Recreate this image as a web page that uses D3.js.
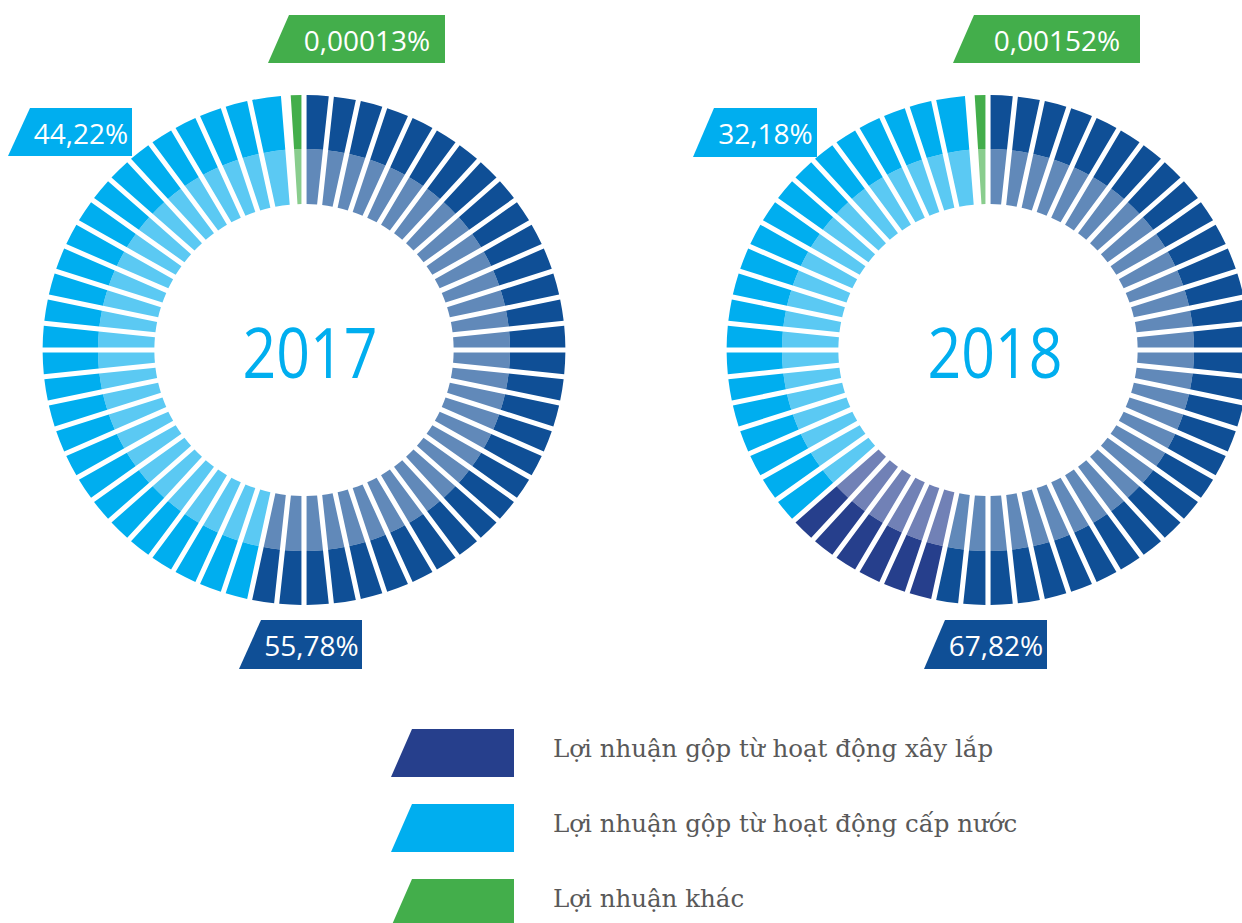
<!DOCTYPE html>
<html>
<head>
<meta charset="utf-8">
<script src="https://cdn.jsdelivr.net/npm/d3@7"></script>
<style>
  body { margin: 0; background: #fff; }
  svg { display: block; }
</style>
</head>
<body>
<svg id="chart"></svg>
<script>
// ---- data ----
const categories = [
  "Lợi nhuận gộp từ hoạt động xây lắp",
  "Lợi nhuận gộp từ hoạt động cấp nước",
  "Lợi nhuận khác"
];
const years = ["2017", "2018"];
const share2017 = ["55,78%", "44,22%", "0,00013%"];
const share2018 = ["67,82%", "32,18%", "0,00152%"];
// bars on each ring, as runs of one shade (60 bars around)
const runShade2017 = ["blue", "cyan", "green"];
const runBars2017 = [32, 27, 1];
const runShade2018 = ["blue", "navy", "cyan", "green"];
const runBars2018 = [32, 6, 21, 1];

const legendColors = ["#263f8c", "#00aeef", "#43ae4b"];
const labelColors = ["#0f4f96", "#00aeef", "#43ae4b"];
// outer / inner colour of each bar shade
const shades = {
  blue:  ["#0f4f96", "#6189b9"],
  navy:  ["#263f8c", "#7181b6"],
  cyan:  ["#00aeef", "#5bc9f3"],
  green: ["#43ae4b", "#89cd8d"]
};

const width = 1242, height = 923;
const rOut = 255, rMid = 201, rIn = 146;
const totalSlots = 60;

const svg = d3.select("#chart")
  .attr("width", width)
  .attr("height", height)
  .attr("viewBox", [0, 0, width, height]);

const slot = d3.scaleLinear().domain([0, totalSlots]).range([0, 2 * Math.PI]);

const arcDark = d3.arc().innerRadius(rMid).outerRadius(rOut)
  .padRadius(rOut).padAngle(5 / rOut);
const arcLight = d3.arc().innerRadius(rIn).outerRadius(rMid)
  .padRadius(rOut).padAngle(5 / rOut);

function buildBars(shadeRuns, barRuns) {
  const bars = [];
  let i = 0;
  shadeRuns.forEach((s, k) => {
    for (let j = 0; j < barRuns[k]; j++) {
      bars.push({ shade: s, start: i, end: i + 1 });
      i++;
    }
  });
  // the "other" bar is only a thin sliver, the bar before it a bit wider
  const last = bars[bars.length - 1], prev = bars[bars.length - 2];
  prev.end = last.start + 0.25;
  last.start = last.start + 0.42;
  return bars;
}

const rings = [
  { year: years[0], cx: 304, cy: 350, bars: buildBars(runShade2017, runBars2017), shares: share2017,
    boxes: [
      { yT: 620, yB: 669, xTL: 261, xBL: 239, xR: 362 },
      { yT: 108, yB: 156, xTL: 30, xBL: 8, xR: 132 },
      { yT: 15, yB: 63, xTL: 289, xBL: 268, xR: 445 }
    ], yearX: 310 },
  { year: years[1], cx: 988, cy: 350, bars: buildBars(runShade2018, runBars2018), shares: share2018,
    boxes: [
      { yT: 620, yB: 669, xTL: 945, xBL: 924, xR: 1047 },
      { yT: 108, yB: 157, xTL: 714, xBL: 693, xR: 817 },
      { yT: 15, yB: 63, xTL: 974, xBL: 953, xR: 1140 }
    ], yearX: 995 }
];

const slant = (b) => `M${b.xBL},${b.yB}L${b.xTL},${b.yT}L${b.xR},${b.yT}L${b.xR},${b.yB}Z`;

rings.forEach(ring => {
  const g = svg.append("g")
    .attr("transform", `translate(${ring.cx},${ring.cy}) scale(1.025,1)`);

  g.selectAll("path.light").data(ring.bars).join("path")
    .attr("class", "light")
    .attr("d", d => arcLight({ startAngle: slot(d.start), endAngle: slot(d.end) }))
    .attr("fill", d => shades[d.shade][1]);

  g.selectAll("path.dark").data(ring.bars).join("path")
    .attr("class", "dark")
    .attr("d", d => arcDark({ startAngle: slot(d.start), endAngle: slot(d.end) }))
    .attr("fill", d => shades[d.shade][0]);

  svg.append("text")
    .attr("x", ring.yearX)
    .attr("y", 378)
    .attr("text-anchor", "middle")
    .attr("font-family", "'Open Sans', sans-serif")
    .attr("font-size", 70)
    .attr("textLength", 135)
    .attr("lengthAdjust", "spacingAndGlyphs")
    .attr("fill", "#00aeef")
    .text(ring.year);

  // percentage tags
  const tags = svg.append("g").selectAll("g").data(ring.shares).join("g");
  tags.append("path")
    .attr("d", (d, i) => slant(ring.boxes[i]))
    .attr("fill", (d, i) => labelColors[i]);
  tags.append("text")
    .attr("x", (d, i) => (ring.boxes[i].xTL + ring.boxes[i].xR) / 2)
    .attr("y", (d, i) => ring.boxes[i].yT + 35.5)
    .attr("text-anchor", "middle")
    .attr("font-family", "'Open Sans', sans-serif")
    .attr("font-size", 28)
    .attr("fill", "#fff")
    .text(d => d);
});

// legend
const legend = svg.append("g").selectAll("g").data(categories).join("g")
  .attr("transform", (d, i) => `translate(0,${i * 75})`);
legend.append("path")
  .attr("d", slant({ yT: 729, yB: 777, xTL: 412, xBL: 391, xR: 514 }))
  .attr("fill", (d, i) => legendColors[i]);
legend.append("text")
  .attr("x", 553)
  .attr("y", 757)
  .attr("font-family", "'DejaVu Serif', serif")
  .attr("font-size", 24.5)
  .attr("fill", "#595959")
  .text(d => d);
</script>
</body>
</html>
